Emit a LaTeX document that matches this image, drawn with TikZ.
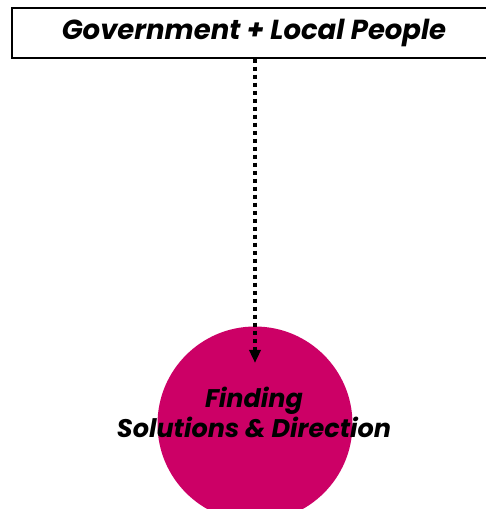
\documentclass[tikz,border=0pt]{standalone}
\usepackage{fontspec}
\setmainfont{Poppins}
\usetikzlibrary{arrows.meta,positioning}
\definecolor{Magenta}{HTML}{CC0066}
\tikzset{
  headbox/.style={draw,line width=1.2pt,minimum width=478pt,minimum height=50pt,inner sep=0pt,
    font=\fontsize{27.5pt}{30pt}\selectfont\itshape\bfseries},
  goalcircle/.style={circle,fill=Magenta,minimum size=195pt},
  goaltext/.style={align=center,font=\fontsize{25.5pt}{30pt}\selectfont\itshape\bfseries},
  linkarrow/.style={line width=3.5pt,dash pattern=on 4.5pt off 3.5pt,-{Triangle[length=13pt,width=11pt]}}
}
\begin{document}
\begin{tikzpicture}[x=1pt,y=1pt]
    \useasboundingbox (0,0) rectangle (486,509);
    \clip (0,0) rectangle (486,509);
    \node[headbox] (gov) at (251,476) {\hspace*{6pt}Government + Local People};
    \node[goalcircle] (goal) at (255,85) {};
    \node[goaltext] (goallabel) at (254,97) {Finding\\Solutions \& Direction};
    \coordinate (tip) at (255,146);
    \draw[linkarrow] (gov.south -| tip) -- (tip);
\end{tikzpicture}
\end{document}
